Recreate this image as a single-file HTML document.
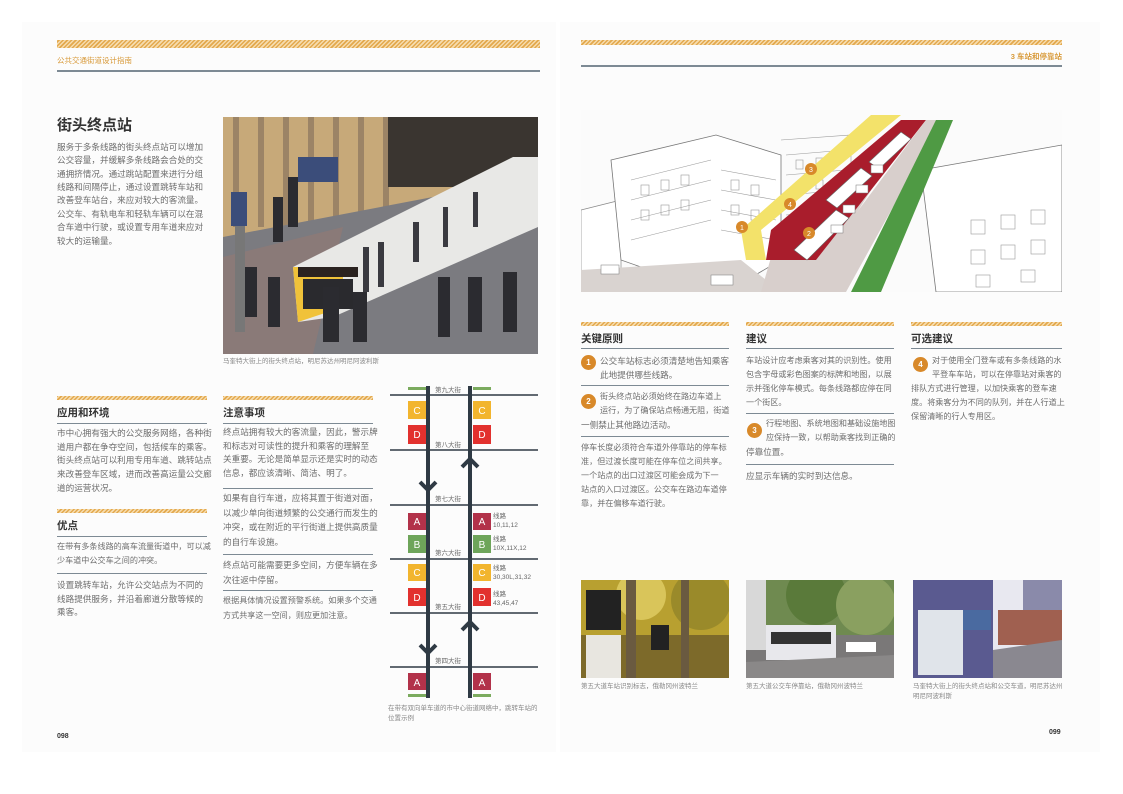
<!DOCTYPE html>
<html><head><meta charset="utf-8">
<style>
*{margin:0;padding:0;box-sizing:border-box}
body{width:1123px;height:794px;background:#fff;position:relative;overflow:hidden;font-family:"Liberation Sans","Noto Sans CJK SC",sans-serif;color:#6a6a6a}
.abs{position:absolute}
.page{position:absolute;background:#fcfcfc}
.stripe{position:absolute;background:repeating-linear-gradient(-45deg,#e3a94e 0 1.5px,#f6dcae 1.5px 3px)}
.rule{position:absolute;height:1px;background:#7d8a94}
.t{position:absolute;font-size:8.6px;line-height:14px;color:#6d6d6d;white-space:pre}
.n{font-size:8.1px}
.h{position:absolute;font-size:10.5px;font-weight:bold;color:#333}
.cap{position:absolute;font-size:6.5px;color:#888;line-height:10px}
.num{position:absolute;width:15px;height:15px;border-radius:50%;background:#d8892a;color:#fff;font-size:8px;font-weight:bold;text-align:center;line-height:15px}
</style></head><body>
<div class="page" style="left:22px;top:22px;width:534px;height:730px"></div>
<div class="page" style="left:560px;top:22px;width:540px;height:730px"></div>

<div class="stripe" style="left:57px;top:40px;width:483px;height:8px"></div>
<div class="abs" style="left:57px;top:55px;font-size:7.5px;color:#d89a3a">公共交通街道设计指南</div>
<div class="rule" style="left:57px;top:70px;width:483px;height:1.5px"></div>

<div class="stripe" style="left:581px;top:40px;width:481px;height:5px"></div>
<div class="abs" style="left:1000px;top:51px;width:62px;text-align:right;font-size:7.5px;color:#d89a3a;font-weight:bold">3 车站和停靠站</div>
<div class="rule" style="left:581px;top:65px;width:481px;height:1.5px"></div>

<div class="abs" style="left:57px;top:114px;font-size:15px;font-weight:bold;color:#333">街头终点站</div>
<div class="t" style="left:57px;top:141px;line-height:13.3px">服务于多条线路的街头终点站可以增加
公交容量，并缓解多条线路会合处的交
通拥挤情况。通过跳站配置来进行分组
线路和间隔停止，通过设置跳转车站和
改善登车站台，来应对较大的客流量。</div>
<div class="t" style="left:57px;top:208px;line-height:13.3px">公交车、有轨电车和轻轨车辆可以在混
合车道中行驶，或设置专用车道来应对
较大的运输量。</div>

<svg class="abs" style="left:223px;top:117px" width="315" height="237" viewBox="0 0 315 237">
<rect width="315" height="237" fill="#8d8a88"/>
<rect width="315" height="120" fill="#c7a979"/>
<g fill="#9c8466"><rect x="10" y="0" width="6" height="110"/><rect x="35" y="0" width="6" height="110"/><rect x="60" y="0" width="6" height="110"/><rect x="85" y="0" width="6" height="110"/><rect x="110" y="0" width="6" height="110"/><rect x="135" y="0" width="6" height="100"/><rect x="160" y="0" width="6" height="100"/></g>
<rect x="165" y="0" width="150" height="70" fill="#3a3530"/>
<polygon points="0,120 315,60 315,237 0,237" fill="#7b7b80"/>
<polygon points="0,140 120,110 90,237 0,237" fill="#8a7a78"/>
<polygon points="70,150 290,40 315,40 315,110 110,200 75,205" fill="#e8e8e6"/>
<polygon points="70,150 120,150 120,190 75,205" fill="#f0c23a"/>
<rect x="75" y="150" width="60" height="10" fill="#2a2220"/>
<rect x="80" y="162" width="50" height="30" fill="#2a2a2e"/>
<g fill="#3a3a40"><rect x="140" y="130" width="6" height="45"/><rect x="155" y="125" width="6" height="45"/><rect x="190" y="105" width="6" height="40"/><rect x="220" y="90" width="5" height="40"/><rect x="250" y="75" width="5" height="35"/></g>
<g fill="#2b2b30"><rect x="20" y="150" width="14" height="50"/><rect x="45" y="160" width="12" height="50"/><rect x="100" y="170" width="16" height="55"/><rect x="130" y="175" width="14" height="50"/><rect x="215" y="160" width="12" height="60"/><rect x="245" y="160" width="14" height="55"/><rect x="280" y="155" width="14" height="60"/><rect x="65" y="60" width="10" height="50"/><rect x="50" y="80" width="10" height="45"/></g>
<rect x="12" y="75" width="10" height="140" fill="#777"/><rect x="8" y="75" width="16" height="34" fill="#3b4d7a"/>
<rect x="75" y="40" width="40" height="25" fill="#3b4d7a"/>
</svg>
<div class="cap" style="left:223px;top:357px">马奎特大街上的街头终点站，明尼苏达州明尼阿波利斯</div>

<div class="stripe" style="left:57px;top:396px;width:150px;height:4px"></div>
<div class="h" style="left:57px;top:405px">应用和环境</div>
<div class="rule" style="left:57px;top:423px;width:150px"></div>
<div class="t" style="left:57px;top:427px;line-height:13.7px">市中心拥有强大的公交服务网络，各种街
道用户都在争夺空间，包括候车的乘客。
街头终点站可以利用专用车道、跳转站点
来改善登车区域，进而改善高运量公交廊
道的运营状况。</div>

<div class="stripe" style="left:57px;top:509px;width:150px;height:4px"></div>
<div class="h" style="left:57px;top:518px">优点</div>
<div class="rule" style="left:57px;top:536px;width:150px"></div>
<div class="t n" style="left:57px;top:540px;line-height:13.5px">在带有多条线路的高车流量街道中，可以减
少车道中公交车之间的冲突。</div>
<div class="rule" style="left:57px;top:573px;width:150px"></div>
<div class="t" style="left:57px;top:579px;line-height:13.5px">设置跳转车站，允许公交站点为不同的
线路提供服务，并沿着廊道分散等候的
乘客。</div>

<div class="stripe" style="left:223px;top:396px;width:150px;height:4px"></div>
<div class="h" style="left:223px;top:405px">注意事项</div>
<div class="rule" style="left:223px;top:423px;width:150px"></div>
<div class="t" style="left:223px;top:426px;line-height:13.7px">终点站拥有较大的客流量，因此，警示牌
和标志对可读性的提升和乘客的理解至
关重要。无论是简单显示还是实时的动态
信息，都应该清晰、简洁、明了。</div>
<div class="rule" style="left:223px;top:488px;width:150px"></div>
<div class="t" style="left:223px;top:491px;line-height:14.5px">如果有自行车道，应将其置于街道对面，
以减少单向街道频繁的公交通行而发生的
冲突，或在附近的平行街道上提供高质量
的自行车设施。</div>
<div class="rule" style="left:223px;top:554px;width:150px"></div>
<div class="t" style="left:223px;top:558px;line-height:14.5px">终点站可能需要更多空间，方便车辆在多
次往返中停留。</div>
<div class="rule" style="left:223px;top:590px;width:150px"></div>
<div class="t n" style="left:223px;top:594px;line-height:14.5px">根据具体情况设置预警系统。如果多个交通
方式共享这一空间，则应更加注意。</div>

<svg class="abs" style="left:385px;top:380px" width="160" height="330" viewBox="385 380 160 330" font-family="Liberation Sans,Noto Sans CJK SC,sans-serif">
<g fill="#7bab5e"><rect x="408" y="387" width="18" height="3"/><rect x="473" y="387" width="18" height="3"/><rect x="408" y="694" width="18" height="3"/><rect x="473" y="694" width="18" height="3"/></g>
<g stroke="#2f3a44" stroke-width="1.5"><line x1="390" y1="395" x2="538" y2="395"/><line x1="390" y1="450" x2="538" y2="450"/><line x1="390" y1="505" x2="538" y2="505"/><line x1="390" y1="559" x2="538" y2="559"/><line x1="390" y1="613" x2="538" y2="613"/><line x1="390" y1="667" x2="538" y2="667"/></g>
<g stroke="#2f3a44" stroke-width="4" fill="none"><line x1="428" y1="386" x2="428" y2="698"/><line x1="470" y1="386" x2="470" y2="698"/>
<polyline points="420,482 428,490 436,482"/><polyline points="420,645 428,653 436,645"/>
<polyline points="462,467 470,459 478,467"/><polyline points="462,630 470,622 478,630"/></g>
<g font-size="10" fill="#fff" text-anchor="middle">
<rect x="408" y="401" width="18" height="18" fill="#f2b52e"/><text x="417" y="414">C</text>
<rect x="408" y="425" width="18" height="19" fill="#e2312e"/><text x="417" y="438">D</text>
<rect x="473" y="401" width="18" height="18" fill="#f2b52e"/><text x="482" y="414">C</text>
<rect x="473" y="425" width="18" height="19" fill="#e2312e"/><text x="482" y="438">D</text>
<rect x="408" y="513" width="18" height="17" fill="#b2324a"/><text x="417" y="525">A</text>
<rect x="473" y="513" width="18" height="17" fill="#b2324a"/><text x="482" y="525">A</text>
<rect x="408" y="535" width="18" height="18" fill="#6ea55a"/><text x="417" y="548">B</text>
<rect x="473" y="535" width="18" height="18" fill="#6ea55a"/><text x="482" y="548">B</text>
<rect x="408" y="564" width="18" height="17" fill="#f2b52e"/><text x="417" y="576">C</text>
<rect x="473" y="564" width="18" height="17" fill="#f2b52e"/><text x="482" y="576">C</text>
<rect x="408" y="588" width="18" height="18" fill="#e2312e"/><text x="417" y="601">D</text>
<rect x="473" y="588" width="18" height="18" fill="#e2312e"/><text x="482" y="601">D</text>
<rect x="408" y="673" width="18" height="17" fill="#b2324a"/><text x="417" y="686">A</text>
<rect x="473" y="673" width="18" height="17" fill="#b2324a"/><text x="482" y="686">A</text>
</g>
<g font-size="6.5" fill="#666">
<text x="435" y="392">第九大街</text><text x="435" y="447">第八大街</text><text x="435" y="501">第七大街</text><text x="435" y="555">第六大街</text><text x="435" y="609">第五大街</text><text x="435" y="663">第四大街</text>
<text x="493" y="518">线路</text><text x="493" y="527">10,11,12</text>
<text x="493" y="541">线路</text><text x="493" y="550">10X,11X,12</text>
<text x="493" y="570">线路</text><text x="493" y="579">30,30L,31,32</text>
<text x="493" y="596">线路</text><text x="493" y="605">43,45,47</text>
</g>
</svg>
<div class="cap" style="left:388px;top:704px;width:155px">在带有双向单车道的市中心街道网络中，跳转车站的位置示例</div>
<div class="abs" style="left:57px;top:733px;font-size:7px;font-weight:bold;color:#333">098</div>

<svg class="abs" style="left:581px;top:110px" width="481" height="182" viewBox="0 0 481 182">
<rect width="481" height="182" fill="#fbfbfb"/>
<polygon points="0,100 40,90 40,160 0,170" fill="#fff" stroke="#888" stroke-width=".7"/>
<polygon points="30,50 135,25 200,45 200,150 140,185 40,150" fill="#fff" stroke="#777" stroke-width=".8"/>
<g stroke="#999" stroke-width=".6" fill="none">
<path d="M50 70 L130 50 M50 90 L130 70 M50 110 L130 90 M50 130 L130 110 M140 60 L195 70 M140 80 L195 90 M140 100 L195 110 M140 120 L195 130"/>
<path d="M200 30 L270 25 L270 120 L200 150 M205 45 L265 40 M205 65 L265 60 M205 85 L265 80 M205 105 L265 100"/>
</g>
<g fill="none" stroke="#999" stroke-width=".6"><rect x="60" y="75" width="8" height="10"/><rect x="80" y="70" width="8" height="10"/><rect x="100" y="65" width="8" height="10"/><rect x="60" y="100" width="8" height="10"/><rect x="80" y="95" width="8" height="10"/><rect x="100" y="90" width="8" height="10"/><rect x="150" y="70" width="8" height="10"/><rect x="170" y="75" width="8" height="10"/><rect x="150" y="95" width="8" height="10"/><rect x="170" y="100" width="8" height="10"/><rect x="215" y="50" width="7" height="9"/><rect x="235" y="48" width="7" height="9"/><rect x="215" y="72" width="7" height="9"/><rect x="235" y="70" width="7" height="9"/></g>
<polygon points="340,60 481,35 481,182 355,182" fill="#fff" stroke="#777" stroke-width=".8"/>
<g stroke="#999" stroke-width=".6" fill="none"><rect x="390" y="110" width="14" height="14"/><rect x="420" y="105" width="14" height="14"/><rect x="450" y="100" width="14" height="14"/><rect x="390" y="140" width="14" height="14"/><rect x="420" y="135" width="14" height="14"/><rect x="450" y="130" width="14" height="14"/><rect x="395" y="165" width="14" height="12"/><rect x="440" y="160" width="14" height="12"/></g>
<polygon points="0,160 160,150 200,182 0,182" fill="#d9d3d0"/>
<polygon points="195,130 320,10 335,10 225,182 180,182" fill="#d8cfcc"/>
<polygon points="160,120 290,5 320,5 180,120 185,150 165,150" fill="#f3e26a"/>
<polygon points="190,120 320,10 345,10 235,150 185,150" fill="#a91d2c"/>
<polygon points="240,150 345,10 360,10 265,182 225,182" fill="#d8cfcc"/>
<polygon points="270,182 355,10 372,10 300,182" fill="#4f9a44"/>
<g fill="#fff" stroke="#666" stroke-width=".6"><polygon points="213,140 255,100 268,108 226,150"/><polygon points="245,90 280,58 291,66 256,98"/><polygon points="288,52 320,22 330,29 298,59"/></g>
<g fill="#fff" stroke="#777" stroke-width=".5"><rect x="250" y="115" width="12" height="8"/><rect x="262" y="95" width="12" height="8"/><rect x="275" y="75" width="12" height="8"/><rect x="290" y="55" width="12" height="8"/><rect x="20" y="155" width="18" height="9"/><rect x="130" y="165" width="22" height="10"/></g>
<circle cx="161" cy="117" r="6" fill="#d8892a"/><text x="161" y="120" font-size="7" fill="#fff" text-anchor="middle">1</text>
<circle cx="228" cy="123" r="6" fill="#d8892a"/><text x="228" y="126" font-size="7" fill="#fff" text-anchor="middle">2</text>
<circle cx="230" cy="59" r="6" fill="#d8892a"/><text x="230" y="62" font-size="7" fill="#fff" text-anchor="middle">3</text>
<circle cx="209" cy="94" r="6" fill="#d8892a"/><text x="209" y="97" font-size="7" fill="#fff" text-anchor="middle">4</text>
</svg>

<div class="stripe" style="left:581px;top:322px;width:148px;height:4px"></div>
<div class="h" style="left:581px;top:331px">关键原则</div>
<div class="rule" style="left:581px;top:348px;width:148px"></div>
<div class="num" style="left:581px;top:355px">1</div>
<div class="t" style="left:600px;top:354px">公交车站标志必须清楚地告知乘客
此地提供哪些线路。</div>
<div class="rule" style="left:581px;top:385px;width:148px"></div>
<div class="num" style="left:581px;top:394px">2</div>
<div class="t n" style="left:600px;top:390px">街头终点站必须始终在路边车道上
运行，为了确保站点畅通无阻，街道</div>
<div class="t" style="left:581px;top:418px">一侧禁止其他路边活动。</div>
<div class="rule" style="left:581px;top:436px;width:148px"></div>
<div class="t n" style="left:581px;top:441px">停车长度必须符合车道外停靠站的停车标
准，但过渡长度可能在停车位之间共享。
一个站点的出口过渡区可能会成为下一
站点的入口过渡区。公交车在路边车道停
靠，并在偏移车道行驶。</div>

<div class="stripe" style="left:746px;top:322px;width:148px;height:4px"></div>
<div class="h" style="left:746px;top:331px">建议</div>
<div class="rule" style="left:746px;top:348px;width:148px"></div>
<div class="t n" style="left:746px;top:354px">车站设计应考虑乘客对其的识别性。使用
包含字母或彩色图案的标牌和地图，以展
示并强化停车模式。每条线路都应停在同
一个街区。</div>
<div class="rule" style="left:746px;top:413px;width:148px"></div>
<div class="num" style="left:747px;top:423px">3</div>
<div class="t n" style="left:766px;top:417px">行程地图、系统地图和基础设施地图
应保持一致，以帮助乘客找到正确的</div>
<div class="t" style="left:746px;top:445px">停靠位置。</div>
<div class="rule" style="left:746px;top:464px;width:148px"></div>
<div class="t" style="left:746px;top:469px">应显示车辆的实时到达信息。</div>

<div class="stripe" style="left:911px;top:322px;width:151px;height:4px"></div>
<div class="h" style="left:911px;top:331px">可选建议</div>
<div class="rule" style="left:911px;top:348px;width:151px"></div>
<div class="num" style="left:913px;top:357px">4</div>
<div class="t n" style="left:932px;top:354px">对于使用全门登车或有多条线路的水
平登车车站，可以在停靠站对乘客的</div>
<div class="t n" style="left:911px;top:382px">排队方式进行管理，以加快乘客的登车速
度。将乘客分为不同的队列，并在人行道上
保留清晰的行人专用区。</div>

<svg class="abs" style="left:581px;top:580px" width="148" height="98"><rect width="148" height="98" fill="#7d6a2a"/><rect width="148" height="55" fill="#b8a030"/><circle cx="60" cy="15" r="25" fill="#d9c55a"/><circle cx="120" cy="20" r="30" fill="#9a8a2a"/><rect x="5" y="10" width="35" height="40" fill="#222"/><rect x="5" y="55" width="35" height="43" fill="#e8e6e0"/><rect x="45" y="0" width="10" height="98" fill="#6a5a40"/><rect x="100" y="0" width="8" height="98" fill="#6a5a40"/><rect x="70" y="45" width="18" height="25" fill="#222"/></svg>
<div class="cap" style="left:581px;top:682px">第五大道车站识别标志，俄勒冈州波特兰</div>
<svg class="abs" style="left:746px;top:580px" width="148" height="98"><rect width="148" height="98" fill="#7a7878"/><rect width="148" height="55" fill="#6f8a50"/><rect width="20" height="70" fill="#d8d8d8"/><circle cx="70" cy="15" r="30" fill="#5a7a3a"/><circle cx="120" cy="25" r="30" fill="#8aa060"/><rect x="20" y="45" width="70" height="35" fill="#e8e8ec"/><rect x="25" y="52" width="60" height="12" fill="#333"/><rect x="100" y="62" width="30" height="10" fill="#fff"/><polygon points="0,82 148,75 148,98 0,98" fill="#8a8888"/></svg>
<div class="cap" style="left:746px;top:682px">第五大道公交车停靠站，俄勒冈州波特兰</div>
<svg class="abs" style="left:913px;top:580px" width="149" height="98"><rect width="149" height="98" fill="#e8e8f0"/><rect width="80" height="98" fill="#5a5a90"/><rect x="5" y="30" width="45" height="65" fill="#e0e4ea"/><rect x="50" y="30" width="28" height="20" fill="#4a6aa0"/><rect x="110" y="0" width="39" height="40" fill="#8a8aaa"/><rect x="85" y="30" width="64" height="35" fill="#a06050"/><polygon points="80,70 149,60 149,98 80,98" fill="#8a8890"/></svg>
<div class="cap" style="left:913px;top:682px;width:150px">马奎特大街上的街头终点站和公交车道，明尼苏达州明尼阿波利斯</div>
<div class="abs" style="left:1049px;top:729px;font-size:7px;font-weight:bold;color:#333">099</div>
</body></html>
